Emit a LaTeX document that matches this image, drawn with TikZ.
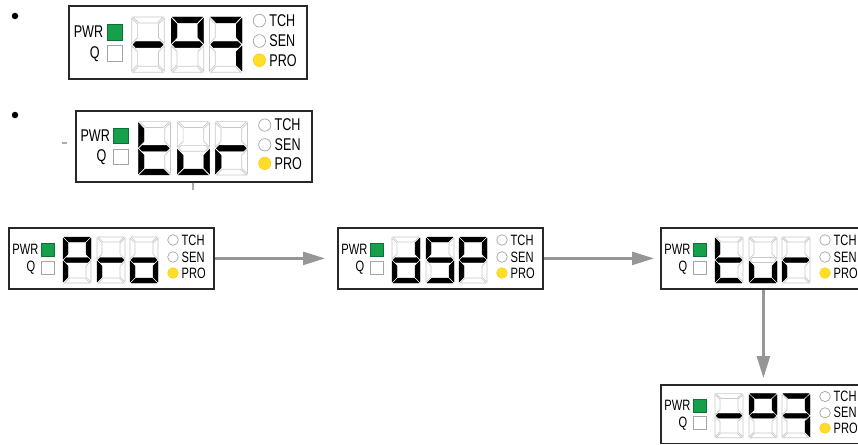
\documentclass[tikz,border=0pt]{standalone}
\usepackage{fontspec}
\usetikzlibrary{arrows.meta}
\newfontfamily\labelfont[FakeStretch=0.74]{Liberation Sans}

\definecolor{lampgreen}{RGB}{22,160,75}
\definecolor{lampyellow}{RGB}{255,222,40}
\definecolor{segoff}{RGB}{200,200,200}
\definecolor{arrowgray}{RGB}{150,150,150}
\definecolor{framedark}{RGB}{40,40,40}
\definecolor{lampedge}{RGB}{165,165,165}

\tikzset{
  seg1/.style={fill=black,draw=black,line width=0.4pt},
  seg0/.style={fill=white,draw=segoff,line width=0.7pt},
  panelframe/.style={draw=framedark,fill=white,line width=1.8pt,inner sep=0pt},
  pwrlamp/.style={fill=lampgreen,draw=lampgreen!70!black,line width=0.5pt},
  qlamp/.style={fill=white,draw=lampedge,line width=0.7pt},
  modelamp/.style={fill=white,draw=lampedge,line width=0.7pt},
  prolamp/.style={fill=lampyellow,draw=lampyellow!85!orange,line width=0.7pt},
  lamptext/.style={inner sep=0pt},
  flowarrow/.style={draw=arrowgray,line width=2.6pt,
    -{Triangle[length=22pt,width=13pt]}},
  stub/.style={draw=arrowgray!80,line width=1.2pt},
  bullet/.style={circle,fill=black,inner sep=0pt,minimum size=6.5pt}
}

% one seven-segment digit: #1 = left edge, #2..#8 = segments a b c d e f g (1 = lit)
\newcommand\sevseg[8]{%
  \begin{scope}[shift={(#1,10)}]
    \path[seg#2] (1,0) -- (27,0) -- (22,5) -- (6,5) -- cycle;
    \path[seg#3] (28,1) -- (23,6) -- (23,17) -- (28,22) -- cycle;
    \path[seg#4] (28,24) -- (23,29) -- (23,40) -- (28,45) -- cycle;
    \path[seg#5] (1,46) -- (27,46) -- (22,41) -- (6,41) -- cycle;
    \path[seg#6] (0,24) -- (5,29) -- (5,40) -- (0,45) -- cycle;
    \path[seg#7] (0,1) -- (5,6) -- (5,17) -- (0,22) -- cycle;
    \path[seg#8] (1,23) -- (3.5,20.5) -- (24.5,20.5) -- (27,23)
                 -- (24.5,25.5) -- (3.5,25.5) -- cycle;
  \end{scope}}

% display panel: #1 name, #2/#3 top-left corner, #4/#5 x/y scale,
% #6 label font size, #7 the three digits
\newcommand\panel[7]{%
  \node[panelframe,anchor=north west,minimum width=205pt*#4,
        minimum height=61pt*#5] (#1) at (#2,#3) {};
  \begin{scope}[shift={(#2,#3)},xscale=#4,yscale=#5,
      every node/.append style={font=\labelfont\fontsize{#6}{#6}\selectfont}]
    \node[lamptext,anchor=east] (#1-pwr) at (30.5,22) {PWR};
    \path[pwrlamp] (33.5,16) rectangle (46.5,29);
    \node[lamptext,anchor=east] (#1-q) at (27.5,41) {Q};
    \path[qlamp] (33.5,34) rectangle (46.5,47);
    #7
    \path[modelamp] (165,13) circle (5.3);
    \path[modelamp] (165,30) circle (5.3);
    \path[prolamp]  (165,46) circle (5.3);
    \node[lamptext,anchor=west] (#1-tch) at (173.5,13) {TCH};
    \node[lamptext,anchor=west] (#1-sen) at (173.5,30) {SEN};
    \node[lamptext,anchor=west] (#1-pro) at (173.5,46) {PRO};
  \end{scope}}

\begin{document}
\begin{tikzpicture}[x=1pt,y=-1pt]
  \useasboundingbox (0,0) rectangle (858,444);
  \clip (0,0) rectangle (858,444);

  % two listed displays at the top
  \node[bullet] (b1) at (15,16) {};
  \node[bullet] (b2) at (15,115) {};
  \panel{top1}{68}{5}{1.16}{1.2}{17}{%
    \sevseg{55}0000001 \sevseg{89}1100011 \sevseg{122}1110001}
  \panel{top2}{75}{110}{1.15}{1.16}{17}{%
    \sevseg{55}0001111 \sevseg{89}0011100 \sevseg{122}0000101}
  \coordinate (stubL1) at (62,143);
  \coordinate (stubL2) at (67,143);
  \draw[stub] (stubL1) -- (stubL2);
  \coordinate (stubD) at (193,190);
  \draw[stub,line width=2pt] (stubD |- top2.south) -- (stubD);

  % menu sequence
  \panel{pro}{8}{227}{1}{1}{15}{%
    \sevseg{55}1100111 \sevseg{89}0000101 \sevseg{122}0011101}
  \panel{dsp}{337}{227}{1}{1}{15}{%
    \sevseg{55}0111101 \sevseg{89}1011011 \sevseg{122}1100111}
  \panel{tur}{660}{227}{1}{1}{15}{%
    \sevseg{55}0001111 \sevseg{89}0011100 \sevseg{122}0000101}
  \panel{val}{660}{384}{1}{0.96}{15}{%
    \sevseg{55}0000001 \sevseg{89}1100011 \sevseg{122}1110001}

  \draw[flowarrow,shorten >=12pt] (pro.east) -- (dsp.west);
  \draw[flowarrow,shorten >=6pt] (dsp.east) -- (tur.west);
  \draw[flowarrow,shorten >=6pt] (tur.south) -- (val.north);
\end{tikzpicture}
\end{document}
